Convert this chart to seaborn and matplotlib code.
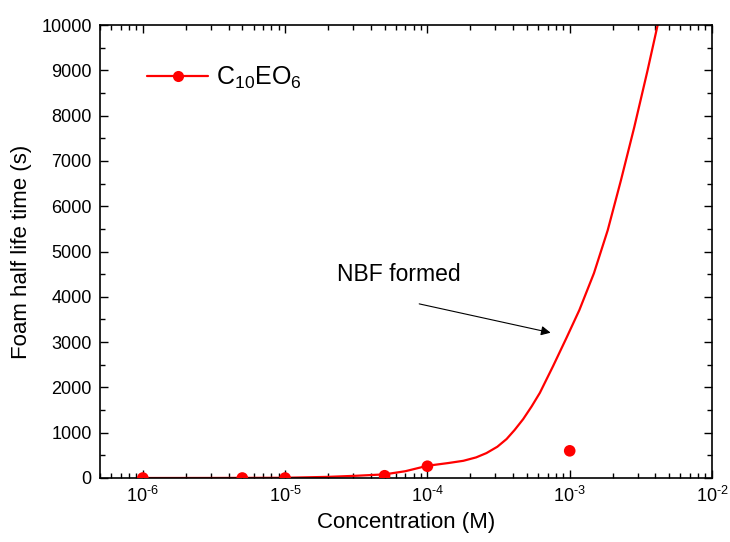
import numpy as np
import pandas as pd
import matplotlib
matplotlib.use("Agg")
import matplotlib.pyplot as plt
from matplotlib.lines import Line2D
from matplotlib.ticker import MultipleLocator, LogLocator, NullFormatter, FuncFormatter
import seaborn as sns

# measured points
conc_pts = [1e-6, 5e-6, 1e-5, 5e-5, 1e-4, 1e-3]
life_pts = [0, 0, 0, 50, 260, 600]

# fitted curve
conc_fit = [1e-6, 3e-6, 1e-5, 2e-5, 3.2e-5, 5e-5, 7e-5, 1e-4, 1.4e-4, 1.79e-4, 2.2e-4,
            2.6e-4, 3.1e-4, 3.6e-4, 4.1e-4, 4.71e-4, 5.4e-4, 6.17e-4, 7.64e-4,
            9.48e-4, 1.17e-3, 1.48e-3, 1.85e-3, 2.29e-3, 2.84e-3, 3.52e-3, 4.15e-3]
life_fit = [0, 1, 5, 25, 50, 80, 150, 270, 330, 380, 455,
            550, 690, 860, 1060, 1300, 1580, 1880, 2470,
            3090, 3710, 4520, 5470, 6570, 7740, 8990, 10000]

series_label = r"C$_{10}$EO$_6$"
x_label = "Concentration (M)"
y_label = "Foam half life time (s)"
annot_text = "NBF formed"

sns.set_style("ticks")
plt.rcParams['font.family'] = ['Liberation Sans', 'DejaVu Sans']
plt.rcParams['mathtext.fontset'] = 'custom'
plt.rcParams['mathtext.rm'] = 'Liberation Sans'
plt.rcParams['mathtext.it'] = 'Liberation Sans'
for k in ['text.color', 'axes.labelcolor', 'xtick.color', 'ytick.color', 'axes.edgecolor']:
    plt.rcParams[k] = 'black'

fig = plt.figure(figsize=(7.30, 5.42), dpi=100)
ax = fig.add_axes([100/730, 1-478/542, (712-100)/730, (478-25)/542])

df_fit = pd.DataFrame({"conc": conc_fit, "life": life_fit})
df_pts = pd.DataFrame({"conc": conc_pts, "life": life_pts})
sns.lineplot(data=df_fit, x="conc", y="life", ax=ax, color="red", lw=1.6, sort=False)
sns.scatterplot(data=df_pts, x="conc", y="life", ax=ax, color="red", s=70,
                edgecolor="none", zorder=5)

ax.set_xscale("log")
ax.set_xlim(5e-7, 1e-2)
ax.set_ylim(0, 10000)
ax.yaxis.set_major_locator(MultipleLocator(1000))
ax.yaxis.set_minor_locator(MultipleLocator(500))
ax.xaxis.set_major_locator(LogLocator(base=10, numticks=20))
ax.xaxis.set_minor_locator(LogLocator(base=10, subs=np.arange(2, 10), numticks=20))
ax.xaxis.set_minor_formatter(NullFormatter())
ax.xaxis.set_major_formatter(FuncFormatter(
    lambda v, p: "10$^{\u2010%d}$" % round(-np.log10(v)) if v < 1 else "10$^{%d}$" % round(np.log10(v))))

ax.tick_params(which="both", direction="in", top=True, right=True, color="black", width=1)
ax.tick_params(which="major", length=6, labelsize=13, pad=6)
ax.tick_params(which="minor", length=3.5)
for s in ax.spines.values():
    s.set_linewidth(1.2)
    s.set_color("black")

ax.set_xlabel(x_label, fontsize=16, labelpad=4)
ax.set_ylabel(y_label, fontsize=16)
ax.yaxis.set_label_coords(-0.111, 0.5)

ax.annotate("", xy=(7.67e-4, 3194), xytext=(8.38e-5, 3857),
            arrowprops=dict(arrowstyle="-|>", color="black", lw=0.8, mutation_scale=14))
ax.text(2.32e-5, 4503, annot_text, fontsize=16.5, va="center", ha="left")

handle = Line2D([], [], color="red", lw=1.6, marker="o", markersize=8, markeredgecolor="none")
ax.legend([handle], [series_label], loc="center left", frameon=False, fontsize=18,
          handlelength=2.44, bbox_to_anchor=(0.0768, 0.8837), borderaxespad=0, borderpad=0,
          handletextpad=0.32)

fig.savefig("out.png", dpi=100)
